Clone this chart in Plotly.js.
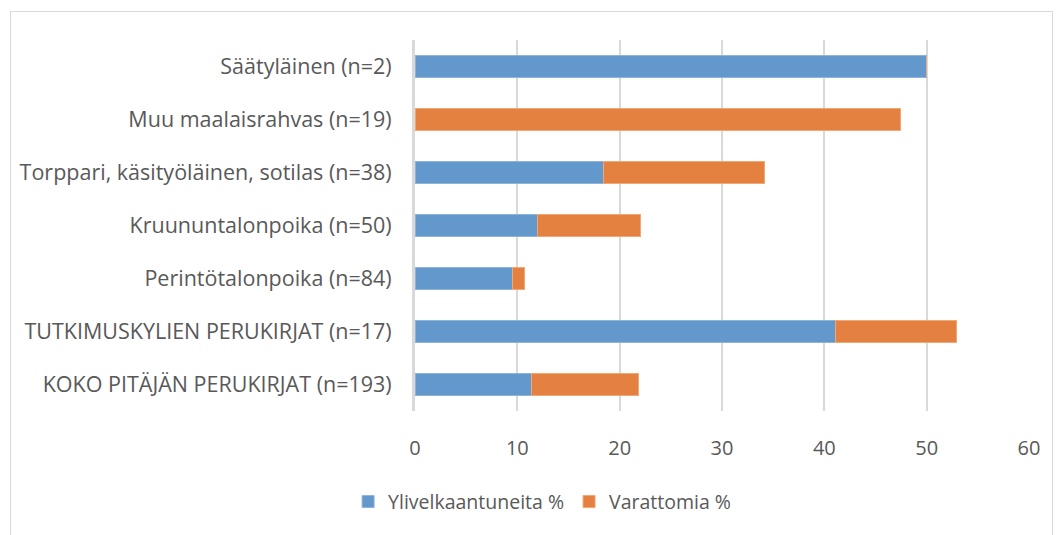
<!DOCTYPE html>
<html>
<head>
<meta charset="utf-8">
<script src="https://cdn.plot.ly/plotly-3.0.1.min.js"></script>
<style>
html,body{margin:0;padding:0;background:#fff;}
#wrap{position:relative;width:1057px;height:535px;}
#chart{width:1057px;height:535px;}
#frame{position:absolute;left:10px;top:11px;width:1041px;height:530px;border:1px solid #d9d9d9;pointer-events:none;}
</style>
</head>
<body>
<div id="wrap"><div id="chart"></div><div id="frame"></div></div>
<script>
const categories = [
  "KOKO PITÄJÄN PERUKIRJAT (n=193)",
  "TUTKIMUSKYLIEN PERUKIRJAT (n=17)",
  "Perintötalonpoika (n=84)",
  "Kruununtalonpoika (n=50)",
  "Torppari, käsityöläinen, sotilas (n=38)",
  "Muu maalaisrahvas (n=19)",
  "Säätyläinen (n=2)"
];
const ylivelkaantuneita = [11.4, 41.1, 9.5, 12.0, 18.4, 0, 50];
const varattomia = [10.4, 11.8, 1.2, 10.0, 15.8, 47.4, 0];
const seriesNames = ["Ylivelkaantuneita %", "Varattomia %"];
const xTicks = [0, 10, 20, 30, 40, 50, 60];

const fam = "Open Sans, Lato, sans-serif";
const txt = "#595959";

const traces = [
  {type: "bar", orientation: "h", name: seriesNames[0], y: categories, x: ylivelkaantuneita,
   marker: {color: "#6298cc", line: {color: "#8fb4dc", width: 1}}, hoverinfo: "x"},
  {type: "bar", orientation: "h", name: seriesNames[1], y: categories, x: varattomia,
   marker: {color: "#e58140", line: {color: "#f0a874", width: 1}}, hoverinfo: "x"}
];

const layout = {
  width: 1057, height: 535,
  margin: {l: 415, r: 28, t: 40, b: 124},
  paper_bgcolor: "#fff", plot_bgcolor: "#fff",
  barmode: "stack", bargap: 0.6,
  font: {family: fam, size: 19, color: txt},
  xaxis: {range: [0, 60], tickvals: xTicks, ticktext: xTicks.map(String),
    showgrid: true, gridcolor: "#d9d9d9", gridwidth: 2, zeroline: false,
    showline: false, ticks: "", ticklen: 0, ticklabelstandoff: 23,
    tickfont: {size: 20, color: txt, family: fam}, fixedrange: true},
  yaxis: {categoryorder: "array", categoryarray: categories, showgrid: false,
    showline: true, linecolor: "#d9d9d9", linewidth: 3, ticks: "", ticklen: 0,
    ticklabelstandoff: 16,
    tickfont: {size: 21.5, color: txt, family: fam}, fixedrange: true},
  legend: {orientation: "h", x: 0.207, xanchor: "center", xref: "paper", y: -0.245, yanchor: "middle",
    font: {size: 19.5, color: txt, family: fam}, itemwidth: 30, traceorder: "normal"},
  showlegend: true
};

Plotly.newPlot("chart", traces, layout, {displayModeBar: false, staticPlot: true});
</script>
</body>
</html>
